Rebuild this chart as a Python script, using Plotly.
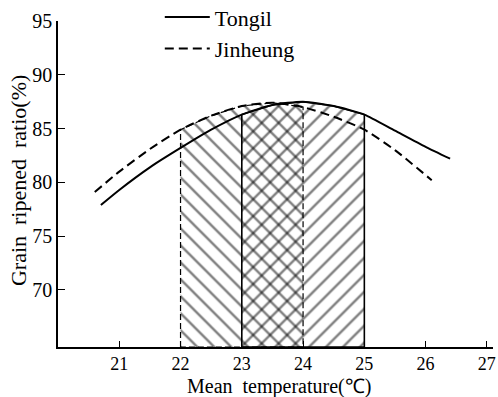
import plotly.graph_objects as go

# Data
tongil_x = [20.7, 21.0, 21.5, 22.0, 22.5, 23.0, 23.5, 24.0, 24.5, 25.0, 25.5, 26.0, 26.4]
tongil_y = [77.9, 79.3, 81.4, 83.2, 84.9, 86.3, 87.2, 87.5, 87.1, 86.3, 84.8, 83.3, 82.2]

jinheung_x = [20.6, 21.0, 21.5, 22.0, 22.5, 23.0, 23.5, 24.0, 24.5, 25.0, 25.5, 26.1]
jinheung_y = [79.1, 81.0, 83.1, 84.9, 86.2, 87.1, 87.4, 87.0, 86.1, 84.9, 83.0, 80.2]

# Optimal temperature ranges (shaded)
tongil_range = [23, 25]
jinheung_range = [22, 24]

x_ticks = [21, 22, 23, 24, 25, 26, 27]
y_ticks = [70, 75, 80, 85, 90, 95]
y_min, y_max = 64.7, 95
x_min, x_max = 20.0, 27.1

FONT = "Liberation Serif"


def region(xs, ys, lo, hi):
    px = [lo]
    py = [y_min]
    for a, b in zip(xs, ys):
        if lo <= a <= hi:
            px.append(a)
            py.append(b)
    px.append(hi)
    py.append(y_min)
    px.append(lo)
    py.append(y_min)
    return px, py


fig = go.Figure()

jx, jy = region(jinheung_x, jinheung_y, *jinheung_range)
fig.add_trace(go.Scatter(
    x=jx, y=jy, mode="lines", fill="toself",
    fillcolor="rgba(0,0,0,0)",
    fillpattern=dict(shape="\\", size=12, solidity=0.2,
                     fgcolor="black", bgcolor="rgba(0,0,0,0)"),
    line=dict(color="black", width=1.2, dash="6px,3px"),
    showlegend=False, hoverinfo="skip"))

tx, ty = region(tongil_x, tongil_y, *tongil_range)
fig.add_trace(go.Scatter(
    x=tx, y=ty, mode="lines", fill="toself",
    fillcolor="rgba(0,0,0,0)",
    fillpattern=dict(shape="/", size=12, solidity=0.2,
                     fgcolor="black", bgcolor="rgba(0,0,0,0)"),
    line=dict(color="black", width=1.6),
    showlegend=False, hoverinfo="skip"))

fig.add_trace(go.Scatter(
    x=tongil_x, y=tongil_y, mode="lines", name="Tongil",
    line=dict(color="black", width=2, shape="spline", smoothing=0.6),
    legendgroup="a"))
fig.add_trace(go.Scatter(
    x=jinheung_x, y=jinheung_y, mode="lines", name="Jinheung",
    line=dict(color="black", width=2, dash="9px,5px", shape="spline", smoothing=0.6),
    legendgroup="b"))

fig.update_layout(
    width=498, height=397,
    margin=dict(l=58, r=5, t=21, b=50, autoexpand=False),
    paper_bgcolor="white", plot_bgcolor="white",
    font=dict(family=FONT, size=20, color="black"),
    showlegend=True,
    legend=dict(
        xref="paper", yref="paper",
        x=0.234, y=1.076, xanchor="left", yanchor="top",
        bgcolor="rgba(0,0,0,0)", borderwidth=0,
        font=dict(family=FONT, size=22, color="black"),
        tracegroupgap=0, itemwidth=45),
    xaxis=dict(
        range=[x_min, x_max], tickvals=x_ticks,
        ticks="inside", ticklen=6, tickwidth=1.2, tickcolor="black",
        showline=True, linecolor="black", linewidth=1.5,
        showgrid=False, zeroline=False, ticklabeloverflow="allow",
        tickfont=dict(family=FONT, size=18)),
    yaxis=dict(
        range=[y_min, y_max], tickvals=y_ticks,
        ticks="inside", ticklen=7, tickwidth=1.2, tickcolor="black",
        showline=True, linecolor="black", linewidth=1.5,
        showgrid=False, zeroline=False, ticklabeloverflow="allow",
        tickfont=dict(family=FONT, size=20)),
    annotations=[
        dict(text="Mean\u00a0 temperature(℃)", xref="paper", yref="paper",
             x=0.508, y=-0.121, xanchor="center", yanchor="middle",
             showarrow=False, font=dict(family=FONT, size=20)),
        dict(text="Grain\u00a0 ripened\u00a0 ratio(%)", xref="paper", yref="paper",
             x=-0.092, y=0.512, xanchor="center", yanchor="middle",
             textangle=-90, showarrow=False, font=dict(family=FONT, size=22)),
    ],
)

fig.write_html(
    "out.html",
    config={"displayModeBar": False},
    post_script="document.body.style.margin='0';document.body.style.overflow='hidden';",
)
